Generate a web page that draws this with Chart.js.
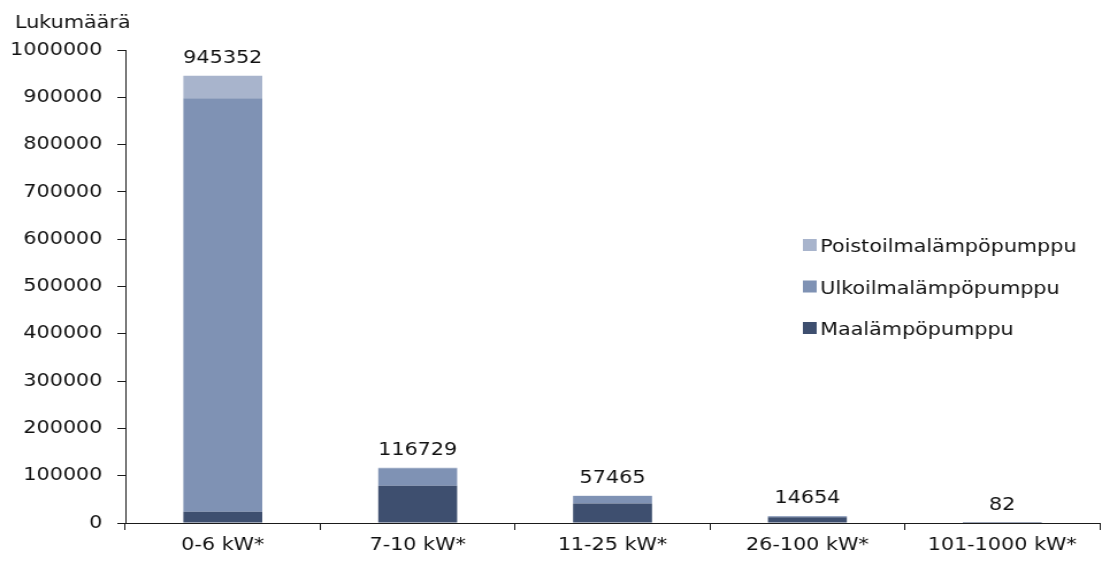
<!DOCTYPE html>
<html>
<head>
<meta charset="utf-8">
<script src="https://cdn.jsdelivr.net/npm/chart.js@4.4.0/dist/chart.umd.min.js"></script>
<style>
  html, body { margin: 0; padding: 0; background: #ffffff; overflow: hidden; }
  /* the chart is laid out a little narrower and widened to the page width */
  #wrap { width: 958px; height: 562px; transform: scaleX(1.1503); transform-origin: 0 0; }
</style>
</head>
<body>
<div id="wrap"><canvas id="c" width="958" height="562"></canvas></div>
<script>
// Heat pump counts by nominal power class
const categories = ['0-6 kW*', '7-10 kW*', '11-25 kW*', '26-100 kW*', '101-1000 kW*'];
const seriesNames = ['Maalämpöpumppu', 'Ulkoilmalämpöpumppu', 'Poistoilmalämpöpumppu'];
const maalampo   = [24000, 78500, 41000, 12000, 50];
const ulkoilma   = [874000, 37500, 16000, 2500, 30];
const poistoilma = [47352, 729, 465, 154, 2];
const yTicks = [0, 100000, 200000, 300000, 400000, 500000, 600000, 700000, 800000, 900000, 1000000];
const axisTitle = 'Lukumäärä';

const colors = ['#3e4f6f', '#7f92b4', '#a8b4cc'];
const FONT = '"DejaVu Sans", Verdana, sans-serif';
const AXIS = '#1a1a1a';
const TEXT = '#111';

const overlay = {
  id: 'overlay',
  afterDatasetsDraw(chart) {
    const ctx = chart.ctx;
    const xs = chart.scales.x, ys = chart.scales.y;
    ctx.save();
    ctx.font = '18px ' + FONT;
    ctx.fillStyle = TEXT;
    ctx.textBaseline = 'alphabetic';

    // stack totals above each bar
    ctx.textAlign = 'center';
    categories.forEach((c, i) => {
      const sum = chart.data.datasets.reduce((a, d) => a + d.data[i], 0);
      ctx.fillText(String(sum), xs.getPixelForValue(i), ys.getPixelForValue(sum) - 13);
    });

    // axis caption
    ctx.textAlign = 'left';
    ctx.fillText(axisTitle, 13, 28);

    // legend, top series first
    const ds = chart.data.datasets.slice().reverse();
    ds.forEach((d, k) => {
      const base = 252 + k * 41.5;
      ctx.fillStyle = d.backgroundColor;
      ctx.fillRect(698, base - 13, 12, 12);
      ctx.fillStyle = TEXT;
      ctx.fillText(d.label, 713, base);
    });
    ctx.restore();
  }
};

new Chart(document.getElementById('c'), {
  type: 'bar',
  data: {
    labels: categories,
    datasets: [
      { label: seriesNames[0], data: maalampo, backgroundColor: colors[0] },
      { label: seriesNames[1], data: ulkoilma, backgroundColor: colors[1] },
      { label: seriesNames[2], data: poistoilma, backgroundColor: colors[2] }
    ]
  },
  options: {
    responsive: false,
    animation: false,
    devicePixelRatio: 1,
    layout: { padding: { top: 50, right: 2, bottom: 2, left: 0 } },
    datasets: { bar: { categoryPercentage: 1.0, barPercentage: 0.405, borderWidth: 0 } },
    plugins: { legend: { display: false }, tooltip: { enabled: false } },
    scales: {
      x: {
        stacked: true,
        offset: true,
        afterFit: s => { s.height = 37; },
        grid: { display: true, drawOnChartArea: false, drawTicks: true, tickLength: 7, color: AXIS, offset: true },
        border: { color: AXIS, width: 1 },
        ticks: { color: TEXT, font: { family: FONT, size: 18 }, padding: 5, maxRotation: 0, autoSkip: false }
      },
      y: {
        stacked: true,
        min: 0,
        max: 1000000,
        afterBuildTicks: s => { s.ticks = yTicks.map(v => ({ value: v })); },
        afterFit: s => { s.width = 109; },
        grid: { display: true, drawOnChartArea: false, drawTicks: true, tickLength: 7, color: AXIS },
        border: { color: AXIS, width: 1 },
        ticks: { color: TEXT, font: { family: FONT, size: 18 }, padding: 13, callback: v => String(v) }
      }
    }
  },
  plugins: [overlay]
});
</script>
</body>
</html>
